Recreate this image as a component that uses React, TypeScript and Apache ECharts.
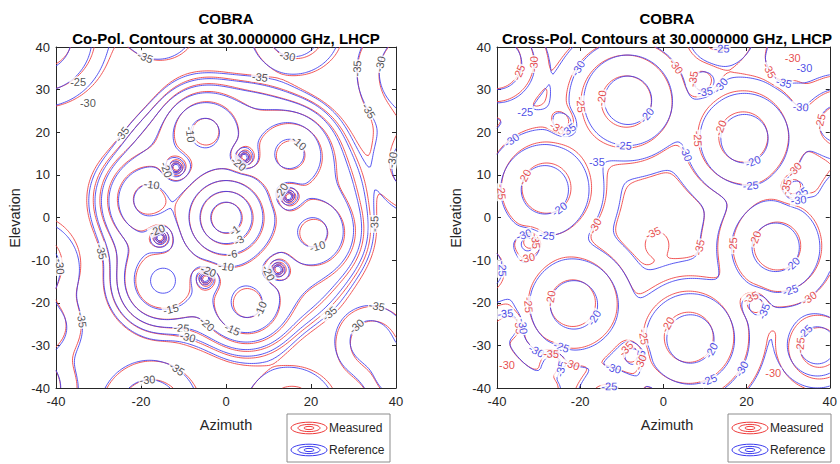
import React, { useEffect, useRef } from "react";
import * as echarts from "echarts";

// ---------- data ----------
const CO_LEVELS = [-1, -3, -6, -10, -15, -20, -25, -30, -35];
const CX_LEVELS = [-20, -25, -30, -35];

// lobes: [azimuth, elevation, peak dB, width deg]
const coRefBeams = [
  [0, 0, 0, 7.2], [-5, 20, -9, 5.5], [15, 15, -9, 5.5], [20.5, -3.5, -9, 5.5],
  [4.9, -20, -8.8, 5.6], [-15, -15, -9.3, 5.5], [-18.2, 4.1, -8.8, 5.6],
  [-44, 42, -22, 9], [16, 44, -27, 7.2], [46, 34, -26, 10], [46, 12, -27, 8],
  [40.5, -37, -27, 5.5], [-18, -45, -27, 8], [-46, -12, -27, 8], [-45, -40, -27, 7], [15, -46, -28, 8],
  [-16, 46, -29, 7], [-42, -26, -28, 6], [34, -29, -27.5, 6],
];
const coMeasBeams = [
  [0.2, -0.1, 0, 7.3], [-4.8, 20.3, -9.3, 5.6], [15.3, 14.7, -9.1, 5.6], [20.8, -3.7, -9.2, 5.6],
  [5.1, -20.3, -9.1, 5.7], [-15.2, -15.2, -10.55, 5.6], [-18.5, 4.3, -9, 5.7],
  [-43.5, 42.5, -22.5, 9.5], [16.5, 44, -26.5, 7.2], [46.5, 33.5, -25.5, 10], [46, 13, -26.5, 8],
  [41, -37.5, -26.5, 5.5], [-17.5, -45.5, -26.5, 8], [-46, -11, -26.5, 8], [-45.5, -40, -26.5, 7], [15.5, -46, -27.5, 8],
  [-15.5, 46, -28.6, 7], [-42.5, -25.5, -27.6, 6], [34.5, -29.5, -27, 6],
];
// broad pedestal under the beam cluster: [azimuth, elevation, level dB, radius deg, exponent]
const coRefPedestal = [[2, 1, -18, 27, 8]];
const coMeasPedestal = [[2.3, 0.8, -18.3, 27.4, 8]];
// nulls: [azimuth, elevation, radius deg, depth]
const coRefNulls = [
  [-11.8, 11.6, 2.5, 1], [4.2, 14, 2.5, 1], [14.6, 5, 2.5, 1],
  [-15.4, -4.8, 2.5, 1], [-4.9, -14.2, 2.5, 1], [12.1, -12.3, 2.5, 1],
];
const coMeasNulls = [
  [-11.6, 11.9, 2.5, 1], [4.5, 14.2, 2.5, 1], [14.9, 4.8, 2.5, 1],
  [-15.6, -4.6, 2.5, 1], [-4.7, -14.5, 2.5, 1], [12.4, -12.1, 2.5, 1],
];
const CO_FLOOR = -42;

const cxRefPeaks = [
  [-8.5, 27.5, -18, 8.2], [19.5, 18.5, -18, 8.2], [27, -7, -18, 8.2],
  [6.5, -28.5, -18, 8.2], [-21.5, -20.5, -18, 8.2], [-28.5, 6.5, -18, 8.2],
  [-40, 36, -21, 6], [14, 44, -23, 6], [42, 22, -23, 6], [37, -30, -22, 5],
  [-13, -44, -23, 6], [-44, -12, -22, 6], [44, 5, -25, 5],
];
const cxMeasPeaks = [
  [-8.9, 27.2, -17.8, 8.3], [19.2, 18.9, -17.9, 8.3], [27.4, -6.7, -18.1, 8.3],
  [6.1, -28.1, -17.9, 8.3], [-21.8, -20.1, -18.2, 8.3], [-28.1, 6.9, -17.9, 8.3],
  [-40.5, 36.5, -20.5, 6], [13.5, 44, -22.5, 6], [42.5, 21.5, -22.5, 6], [37.5, -30.5, -21.5, 5],
  [-13.5, -44, -22.5, 6], [-44, -12.5, -21.5, 6], [44, 5.5, -24.5, 5], [-1.5, -6, -37, 3.5],
];
const cxRefDips = [
  [-24, 22, 2.5, 0.8], [10, 31.5, 2.5, 0.8], [29, 34.5, 2.5, 0.8], [31.5, 6.5, 2.5, 0.8],
  [22.5, -20.5, 2.5, 0.8], [-7, -32.5, 2.5, 0.8], [-26.5, -34, 2.5, 0.8], [-32.5, -6, 2.5, 0.8],
  [-37, -25, 2.5, 0.8],
];
const cxMeasDips = [
  [-24.5, 22.5, 2.5, 0.8], [9.5, 31.8, 2.5, 0.8], [28.5, 35, 2.5, 0.8], [31, 7, 2.5, 0.8],
  [22, -20, 2.5, 0.8], [-7.5, -32, 2.5, 0.8], [-27, -33.5, 2.5, 0.8], [-32, -5.5, 2.5, 0.8],
  [-36.5, -25.5, 2.5, 0.8],
];
const CX_FLOOR = -37;

// contour labels: [level, azimuth, elevation]
const coLabels = [
  [-35, -19.1, 37.2], [-25, -34.8, 31.8], [-30, -32.5, 26.9], [-35, -28.5, 22.4], [-10, -5.4, 19.8],
  [-20, -12, 11.8], [-10, -17.9, 4.8], [-30, 14.6, 38.1], [-35, 8, 33], [-35, 33.4, 35.1],
  [-30, 36.2, 35.8], [-35, 30.8, 23.3], [-10, 15.1, 15.1], [-20, 4, 14], [-20, 14.4, 5.3],
  [-30, 38.1, 13.5], [-20, -15.5, -4.8], [-35, -30.4, -8.3], [-30, -39.1, -11.6], [-20, -4.9, -14.2],
  [-15, -12.7, -22.4], [-20, -6.1, -26.9], [-25, -10.4, -27.6], [-30, -9.6, -29.4], [-35, -10.1, -33],
  [-35, -32.5, -24], [-30, -18.6, -38.6], [-1, 2.1, -2.9], [-3, 3.3, -5.7], [-6, 1.4, -8.8],
  [-10, -0.2, -11.1], [-20, 12, -12.3], [-10, 21.4, -6], [-10, 6.4, -20.5], [-15, 0.9, -27.1],
  [-35, 34.6, -1.3], [-35, 22.8, -21], [-35, 35.5, -21], [-30, 30.8, -25.7],
];
// cross-pol labels: [level, 0 = measured (red) / 1 = reference (blue), azimuth, elevation]
const cxLabels = [
  [-30, 0, -27.8, 35.8], [-30, 1, -21.9, 35.8], [-25, 0, -34.1, 33.4], [-25, 1, -33.2, 24.8],
  [-35, 0, -24.9, 22.2], [-35, 1, -23.1, 21], [-30, 1, -37.2, 18.9], [-20, 0, -14.4, 28],
  [-25, 0, -20.7, 26.4], [-20, 1, -4.9, 24.5], [-25, 1, -9.6, 18.2], [-35, 1, -16, 13],
  [-20, 0, -32, 8.8], [-20, 1, -25.4, 2.5], [-25, 0, -39.5, 6],
  [-25, 1, 13.9, 36.5], [-30, 0, 31.1, 37.4], [-35, 0, 27.1, 35.3], [-35, 1, 29.4, 33.9],
  [-30, 1, 33.9, 35.1], [-30, 0, 1.2, 33.9], [-35, 0, 7.1, 32.3], [-30, 1, 11.5, 33],
  [-35, 1, 9.9, 31.1], [-20, 0, 14.6, 20.5], [-20, 1, 21.2, 14.2], [-25, 0, 8.2, 18.7],
  [-30, 1, 5.9, 15.4], [-25, 1, 20.9, 9.5], [-25, 0, 35.8, 23.3], [-30, 1, 32.7, 22.9],
  [-30, 0, 33.4, 9.5], [-35, 0, 30.4, 7.2], [-35, 1, 32.7, 5.7], [-30, 1, 32.9, 2.9],
  [-30, 1, -34.1, -2.9], [-35, 0, -31.8, -5.7], [-30, 0, -32.9, -9.5], [-25, 1, -27.8, -3.6],
  [-30, 0, -17.9, -1.1], [-35, 0, -1.9, -5.3], [-25, 1, -36.7, -11.8], [-25, 0, -32.5, -20.5],
  [-20, 0, -26.1, -19.4], [-20, 1, -17.2, -23.3], [-25, 1, -23.8, -28.7], [-35, 1, -37.9, -24.7],
  [-35, 0, -36.7, -25.7], [-30, 1, -33.2, -25.7], [-30, 0, -37.6, -34.6], [-30, 1, -33.2, -35.1],
  [-35, 0, -27.1, -32.7], [-35, 1, -25.9, -35.1], [-30, 0, -21.9, -34.2], [-35, 0, -8.2, -31.6],
  [-35, 1, -6.1, -33], [-30, 1, -12, -34.6], [-25, 1, -13.2, -38.6], [-25, 0, -3.5, -28],
  [-30, 0, -3.5, -35.1], [-35, 0, 9.9, -7.6], [-25, 0, 18.1, -6.5], [-20, 0, 22.8, -5.3],
  [-20, 1, 30.6, -10.4], [-25, 1, 30.6, -17.5], [-30, 0, 35.1, -18.7], [-35, 0, 21.2, -18.9],
  [-35, 1, 24, -21.7], [-25, 1, 32.9, -25.2], [-25, 0, 28.7, -29.4], [-20, 0, 2.4, -25.9],
  [-20, 1, 11.1, -31.1], [-25, 1, 10.6, -37], [-30, 1, 20.9, -36.5], [-30, 0, 26.4, -36.5],
];

// ---------- contouring ----------
const N = 161;
const X0 = -40;
const STEP = 0.5;

function buildGrid(lobes: number[][], pedestals: number[][], nulls: number[][], floorDb: number) {
  const v = new Float64Array(N * N);
  const floorP = Math.pow(10, floorDb / 10);
  for (let j = 0; j < N; j++) {
    const y = X0 + j * STEP;
    for (let i = 0; i < N; i++) {
      const x = X0 + i * STEP;
      let p = floorP;
      for (const [bx, by, pk, w] of lobes) {
        const d2 = (x - bx) ** 2 + (y - by) ** 2;
        p += Math.pow(10, pk / 10) * Math.exp(-d2 / (w * w));
      }
      for (const [px, py, lv, R, ex] of pedestals) {
        const r = Math.sqrt((x - px) ** 2 + (y - py) ** 2) / R;
        p += Math.pow(10, lv / 10) * Math.exp(-Math.pow(r, ex));
      }
      let db = 10 * Math.log10(p);
      for (const [nx, ny, s, depth] of nulls) {
        const d2 = (x - nx) ** 2 + (y - ny) ** 2;
        const f = 1 - depth * Math.exp(-d2 / (s * s));
        db += 20 * Math.log10(Math.max(f, 1e-4));
      }
      v[j * N + i] = db;
    }
  }
  return v;
}

function traceLevel(v: Float64Array, L: number): number[][][] {
  const H = N * (N - 1);
  const pts = new Map<number, number[]>();
  const adj = new Map<number, number[]>();
  const hId = (i: number, j: number) => j * (N - 1) + i;
  const vId = (i: number, j: number) => H + j * N + i;
  const addPt = (id: number, xa: number, ya: number, va: number, xb: number, yb: number, vb: number) => {
    if (!pts.has(id)) {
      const t = (L - va) / (vb - va);
      pts.set(id, [xa + (xb - xa) * t, ya + (yb - ya) * t]);
    }
  };
  const link = (a: number, b: number) => {
    if (!adj.has(a)) adj.set(a, []);
    if (!adj.has(b)) adj.set(b, []);
    adj.get(a)!.push(b);
    adj.get(b)!.push(a);
  };
  for (let j = 0; j < N - 1; j++) {
    for (let i = 0; i < N - 1; i++) {
      const a = v[j * N + i], b = v[j * N + i + 1], c = v[(j + 1) * N + i + 1], d = v[(j + 1) * N + i];
      const ba = a > L, bb = b > L, bc = c > L, bd = d > L;
      if (ba === bb && bb === bc && bc === bd) continue;
      const x = X0 + i * STEP, y = X0 + j * STEP, x1 = x + STEP, y1 = y + STEP;
      const E0 = hId(i, j), E1 = vId(i + 1, j), E2 = hId(i, j + 1), E3 = vId(i, j);
      const e: number[] = [];
      if (ba !== bb) { addPt(E0, x, y, a, x1, y, b); e.push(E0); }
      if (bb !== bc) { addPt(E1, x1, y, b, x1, y1, c); e.push(E1); }
      if (bc !== bd) { addPt(E2, x, y1, d, x1, y1, c); e.push(E2); }
      if (bd !== ba) { addPt(E3, x, y, a, x, y1, d); e.push(E3); }
      if (e.length === 2) link(e[0], e[1]);
      else if (e.length === 4) {
        const center = (a + b + c + d) / 4 > L;
        if (center === ba) { link(E0, E1); link(E2, E3); }
        else { link(E3, E0); link(E1, E2); }
      }
    }
  }
  const used = new Set<number>();
  const lines: number[][][] = [];
  const walk = (start: number) => {
    const line = [pts.get(start)!];
    used.add(start);
    let cur = start;
    for (;;) {
      const nb = adj.get(cur) || [];
      let next = -1;
      for (const n of nb) if (!used.has(n)) { next = n; break; }
      if (next < 0) {
        if (line.length > 2 && nb.includes(start)) line.push(pts.get(start)!);
        break;
      }
      used.add(next);
      line.push(pts.get(next)!);
      cur = next;
    }
    if (line.length > 1) lines.push(line);
  };
  for (const [id, nb] of adj) if (nb.length === 1 && !used.has(id)) walk(id);
  for (const id of adj.keys()) if (!used.has(id)) walk(id);
  return lines;
}

function contourSet(v: Float64Array, levels: number[]) {
  const m = new Map<number, number[][][]>();
  for (const L of levels) m.set(L, traceLevel(v, L));
  return m;
}

function placeLabel(set: Map<number, number[][][]>, L: number, x: number, y: number) {
  const lines = set.get(L) || [];
  let best = Infinity, bx = x, by = y, rot = 0;
  for (const ln of lines) {
    for (let k = 0; k < ln.length; k++) {
      const d = (ln[k][0] - x) ** 2 + (ln[k][1] - y) ** 2;
      if (d < best) {
        best = d;
        bx = ln[k][0]; by = ln[k][1];
        const p = ln[Math.max(0, k - 2)], q = ln[Math.min(ln.length - 1, k + 2)];
        let ang = (Math.atan2(q[1] - p[1], q[0] - p[0]) * 180) / Math.PI;
        if (ang > 90) ang -= 180;
        if (ang <= -90) ang += 180;
        rot = ang;
      }
    }
  }
  if (best > 25) return { x, y, rot: 0 };
  return { x: bx, y: by, rot };
}

const RED = "#ee3b3b";
const BLUE = "#3b3bee";
const FONT = "'Liberation Sans', Arial, Helvetica, sans-serif";

export default function App() {
  const ref = useRef<HTMLDivElement>(null);
  useEffect(() => {
    if (!ref.current) return;
    const chart = echarts.init(ref.current, undefined, { renderer: "svg" });

    const coRef = contourSet(buildGrid(coRefBeams, coRefPedestal, coRefNulls, CO_FLOOR), CO_LEVELS);
    const coMeas = contourSet(buildGrid(coMeasBeams, coMeasPedestal, coMeasNulls, CO_FLOOR), CO_LEVELS);
    const cxRef = contourSet(buildGrid(cxRefPeaks, [], cxRefDips, CX_FLOOR), CX_LEVELS);
    const cxMeas = contourSet(buildGrid(cxMeasPeaks, [], cxMeasDips, CX_FLOOR), CX_LEVELS);

    const flat = (s: Map<number, number[][][]>) => {
      const out: { coords: number[][] }[] = [];
      s.forEach((ls) => ls.forEach((c) => out.push({ coords: c })));
      return out;
    };

    const grids = [
      { left: 56, top: 47, width: 340, height: 341 },
      { left: 497, top: 47, width: 340, height: 341 },
    ];
    const axisCommon = {
      type: "value" as const,
      min: -40,
      max: 40,
      axisLine: { show: true, onZero: false, lineStyle: { color: "#262626", width: 1 } },
      axisTick: { show: true, inside: true, length: 4, lineStyle: { color: "#262626" } },
      splitLine: { show: false },
    };
    const xAxis: any[] = [];
    const yAxis: any[] = [];
    [0, 1].forEach((g) => {
      xAxis.push({
        ...axisCommon, gridIndex: g, interval: 20, position: "bottom",
        axisLabel: { color: "#262626", fontSize: 13, fontFamily: FONT, margin: 7 },
      });
      yAxis.push({
        ...axisCommon, gridIndex: g, interval: 10, position: "left",
        axisLabel: { color: "#262626", fontSize: 13, fontFamily: FONT, margin: 6 },
      });
    });
    [0, 1].forEach((g) => {
      xAxis.push({ ...axisCommon, gridIndex: g, interval: 20, position: "top", axisLabel: { show: false } });
      yAxis.push({ ...axisCommon, gridIndex: g, interval: 10, position: "right", axisLabel: { show: false } });
    });

    const lineSeries = (data: any[], g: number, color: string) => ({
      type: "lines",
      coordinateSystem: "cartesian2d",
      xAxisIndex: g,
      yAxisIndex: g,
      polyline: true,
      silent: true,
      z: 2,
      lineStyle: { color, width: 1, opacity: 0.85 },
      data,
    });

    const coLabelData = coLabels.map(([L, x, y]) => {
      const p = placeLabel(coRef, L, x, y);
      return {
        value: [p.x, p.y],
        label: {
          show: true, position: "inside", formatter: String(L), rotate: p.rot,
          color: "#262626", fontSize: 11, fontFamily: FONT,
          backgroundColor: "#ffffff", padding: [0, 1],
        },
      };
    });
    const cxLabelData = cxLabels.map(([L, which, x, y]) => {
      const p = placeLabel(which === 0 ? cxMeas : cxRef, L, x, y);
      return {
        value: [p.x, p.y],
        label: {
          show: true, position: "inside", formatter: String(L), rotate: p.rot,
          color: which === 0 ? "#e01a1a" : "#1a1ae0", fontSize: 11, fontFamily: FONT,
          backgroundColor: "#ffffff", padding: [0, 1],
        },
      };
    });
    const labelSeries = (data: any[], g: number) => ({
      type: "scatter",
      xAxisIndex: g,
      yAxisIndex: g,
      symbolSize: 0,
      silent: true,
      z: 5,
      data,
    });

    const graphic: any[] = [];
    const titles = [
      "Co-Pol. Contours at 30.0000000 GHz, LHCP",
      "Cross-Pol. Contours at 30.0000000 GHz, LHCP",
    ];
    [0, 1].forEach((g) => {
      const ox = g * 441;
      const cx = 226 + ox;
      graphic.push({
        type: "text", x: cx, y: 18,
        style: { text: "COBRA", font: `bold 15px ${FONT}`, fill: "#000", align: "center", verticalAlign: "middle" },
      });
      graphic.push({
        type: "text", x: cx, y: 38,
        style: { text: titles[g], font: `bold 15px ${FONT}`, fill: "#000", align: "center", verticalAlign: "middle" },
      });
      graphic.push({
        type: "text", x: cx, y: 425,
        style: { text: "Azimuth", font: `14.5px ${FONT}`, fill: "#262626", align: "center", verticalAlign: "middle" },
      });
      graphic.push({
        type: "text", x: 15 + ox, y: 218, rotation: Math.PI / 2,
        style: { text: "Elevation", font: `14.5px ${FONT}`, fill: "#262626", align: "center", verticalAlign: "middle" },
      });
      graphic.push({
        type: "rect", shape: { x: 287 + ox, y: 414, width: 103, height: 48 },
        style: { fill: "#fff", stroke: "#8c8c8c", lineWidth: 1 },
      });
      [[428, RED, "Measured"], [450, BLUE, "Reference"]].forEach(([yy, col, txt]) => {
        [[18, 5.8], [11, 3.6], [5, 1.6]].forEach(([rx, ry]) => {
          graphic.push({
            type: "ellipse", shape: { cx: 309 + ox, cy: yy, rx, ry },
            style: { fill: "none", stroke: col, lineWidth: 1 },
          });
        });
        graphic.push({
          type: "text", x: 329 + ox, y: yy,
          style: { text: txt, font: `12px ${FONT}`, fill: "#262626", align: "left", verticalAlign: "middle" },
        });
      });
    });

    chart.setOption({
      animation: false,
      backgroundColor: "#ffffff",
      grid: grids.map((g) => ({ ...g, show: false })),
      xAxis,
      yAxis,
      series: [
        lineSeries(flat(coMeas), 0, RED),
        lineSeries(flat(coRef), 0, BLUE),
        lineSeries(flat(cxMeas), 1, RED),
        lineSeries(flat(cxRef), 1, BLUE),
        labelSeries(coLabelData, 0),
        labelSeries(cxLabelData, 1),
      ],
      graphic,
    });
    return () => chart.dispose();
  }, []);
  return (
    <div
      ref={ref}
      style={{ position: "fixed", left: 0, top: 0, width: 840, height: 464, background: "#fff" }}
    />
  );
}
